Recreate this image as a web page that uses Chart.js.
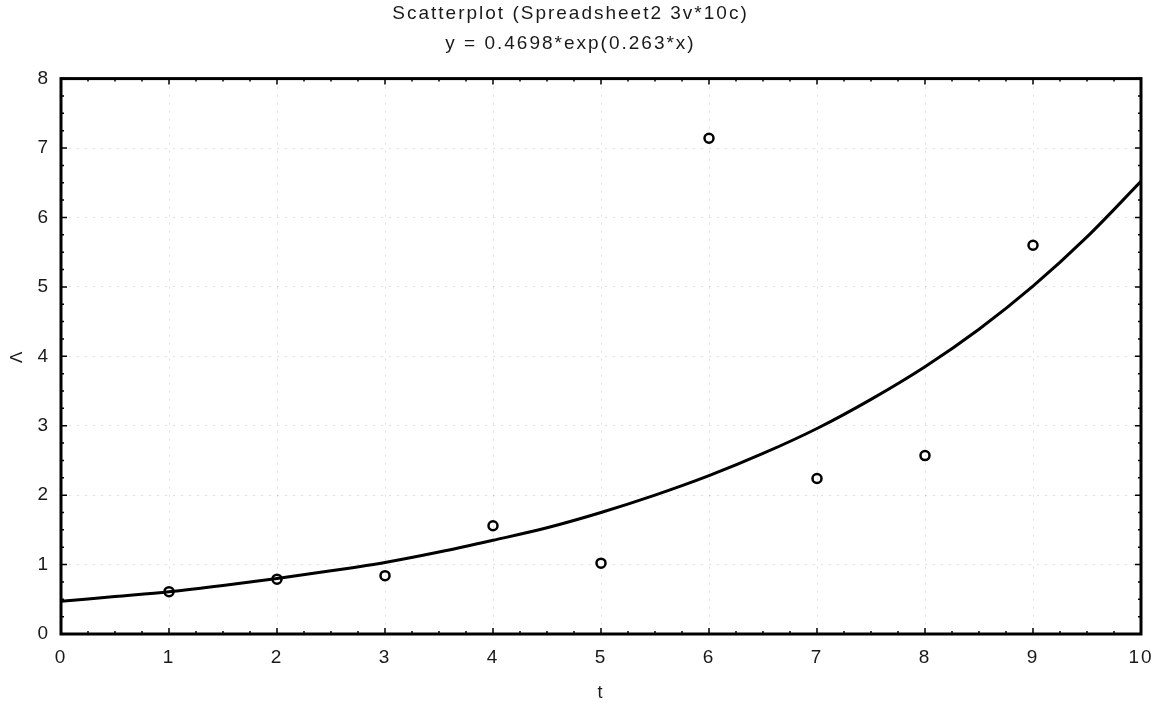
<!DOCTYPE html>
<html>
<head>
<meta charset="utf-8">
<script src="https://cdn.jsdelivr.net/npm/chart.js@4"></script>
<style>
  html, body { margin: 0; padding: 0; background: #fff; }
  #wrap { width: 1159px; height: 704px; }
</style>
</head>
<body>
<div id="wrap"><canvas id="plot" width="1159" height="704"></canvas></div>
<script>
// observed points (t, V)
const pointT = [1, 2, 3, 4, 5, 6, 7, 8, 9];
const pointV = [0.61, 0.79, 0.84, 1.56, 1.02, 7.14, 2.24, 2.57, 5.60];

// fitted curve every 0.5
const curveT = [0, 0.5, 1, 1.5, 2, 2.5, 3, 3.5, 4, 4.5, 5, 5.5, 6, 6.5, 7, 7.5, 8, 8.5, 9, 9.5, 10];
const curveV = [0.47, 0.54, 0.61, 0.70, 0.80, 0.91, 1.03, 1.18, 1.35, 1.53, 1.75, 2.00, 2.28, 2.60, 2.96, 3.38, 3.85, 4.39, 5.01, 5.72, 6.52];

const xTicks = [0, 1, 2, 3, 4, 5, 6, 7, 8, 9, 10];
const yTicks = [0, 1, 2, 3, 4, 5, 6, 7, 8];

const titleText = 'Scatterplot (Spreadsheet2 3v*10c)';
const subtitleText = 'y = 0.4698*exp(0.263*x)';

const fontFamily = '"Liberation Sans", Arial, sans-serif';

// the scanned original has wide lettering, so space the glyphs out a bit
const spacingPlugin = {
  id: 'spacing',
  beforeDraw(chart) { chart.ctx.letterSpacing = '2px'; }
};

// frame + inward tick marks on all four sides
const framePlugin = {
  id: 'frame',
  afterDatasetsDraw(chart) {
    const { ctx, chartArea: a, scales } = chart;
    ctx.save();
    ctx.strokeStyle = '#000';
    ctx.lineWidth = 1.5;
    for (let v = 0; v <= 10.001; v += 0.25) {
      const px = scales.x.getPixelForValue(v);
      const len = Math.abs(v - Math.round(v)) < 0.01 ? 6 : 3;
      ctx.beginPath();
      ctx.moveTo(px, a.bottom); ctx.lineTo(px, a.bottom - len);
      ctx.moveTo(px, a.top); ctx.lineTo(px, a.top + len);
      ctx.stroke();
    }
    for (let v = 0; v <= 8.001; v += 0.25) {
      const py = scales.y.getPixelForValue(v);
      const len = Math.abs(v - Math.round(v)) < 0.01 ? 6 : 3;
      ctx.beginPath();
      ctx.moveTo(a.left, py); ctx.lineTo(a.left + len, py);
      ctx.moveTo(a.right, py); ctx.lineTo(a.right - len, py);
      ctx.stroke();
    }
    ctx.lineWidth = 3;
    ctx.strokeRect(a.left, a.top, a.right - a.left, a.bottom - a.top);
    ctx.restore();
  }
};

const chartData = {
  datasets: [
    {
      type: 'line',
      label: 'fit',
      data: curveT.map((t, i) => ({ x: t, y: curveV[i] })),
      borderColor: '#000',
      borderWidth: 3,
      pointRadius: 0,
      tension: 0.4,
      cubicInterpolationMode: 'monotone',
      fill: false,
      order: 2
    },
    {
      type: 'scatter',
      label: 'V',
      data: pointT.map((t, i) => ({ x: t, y: pointV[i] })),
      backgroundColor: 'rgba(255,255,255,0)',
      borderColor: '#000',
      borderWidth: 2.5,
      pointRadius: 4.5,
      order: 1
    }
  ]
};

new Chart(document.getElementById('plot').getContext('2d'), {
  type: 'scatter',
  data: chartData,
  options: {
    responsive: false,
    devicePixelRatio: 1,
    animation: false,
    layout: { padding: { left: 0, right: 18, top: 0, bottom: 0 } },
    plugins: {
      legend: { display: false },
      tooltip: { enabled: false },
      title: {
        display: true,
        text: titleText,
        color: '#1a1a1a',
        font: { family: fontFamily, size: 19, weight: 'normal' },
        padding: { top: 2, bottom: 8 }
      },
      subtitle: {
        display: true,
        text: subtitleText,
        color: '#1a1a1a',
        font: { family: fontFamily, size: 19, weight: 'normal' },
        padding: { top: 0, bottom: 23 }
      }
    },
    scales: {
      x: {
        type: 'linear',
        min: 0,
        max: 10,
        afterBuildTicks: (s) => { s.ticks = xTicks.map(v => ({ value: v })); },
        afterFit: (s) => { s.height = 70; s.paddingLeft = 0; s.paddingRight = 0; },
        ticks: {
          color: '#1a1a1a',
          font: { family: fontFamily, size: 19 },
          padding: 12
        },
        grid: {
          color: 'rgba(0,0,0,0.12)',
          drawTicks: false
        },
        border: { display: false, dash: [2, 6] },
        title: {
          display: true,
          text: 't',
          color: '#1a1a1a',
          font: { family: fontFamily, size: 18 },
          padding: { top: 6, bottom: 0 }
        }
      },
      y: {
        type: 'linear',
        min: 0,
        max: 8,
        afterBuildTicks: (s) => { s.ticks = yTicks.map(v => ({ value: v })); },
        afterFit: (s) => { s.width = 61; },
        ticks: {
          color: '#1a1a1a',
          font: { family: fontFamily, size: 19 },
          padding: 11
        },
        grid: {
          color: 'rgba(0,0,0,0.12)',
          drawTicks: false
        },
        border: { display: false, dash: [2, 6] },
        title: {
          display: true,
          text: 'Λ',
          color: '#1a1a1a',
          font: { family: fontFamily, size: 17 },
          padding: { top: 7, bottom: 0 }
        }
      }
    }
  },
  plugins: [spacingPlugin, framePlugin]
});
</script>
</body>
</html>
